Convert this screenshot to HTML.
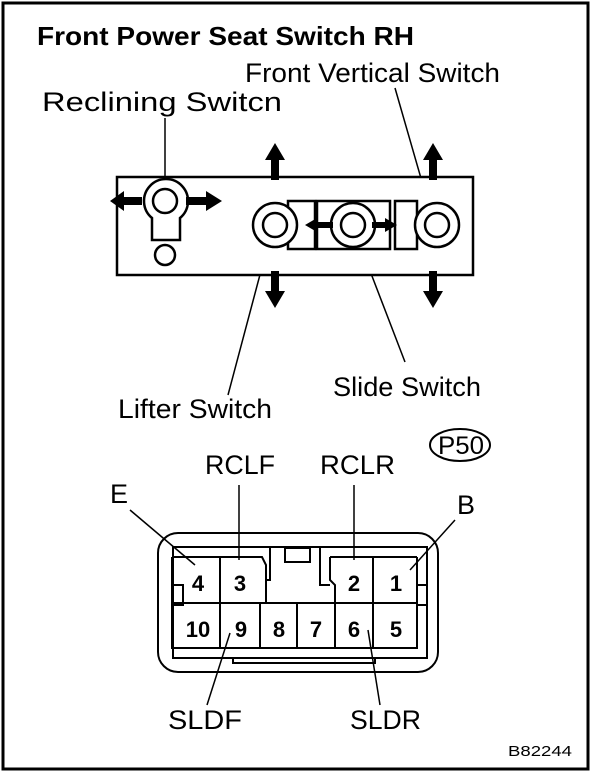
<!DOCTYPE html>
<html><head><style>body{margin:0;background:#fff}svg{display:block}text{font-family:"Liberation Sans",Arial,sans-serif;fill:#000}</style></head><body>
<svg width="608" height="778" viewBox="0 0 608 778" xmlns="http://www.w3.org/2000/svg">
<rect x="3" y="3" width="585" height="766" fill="none" stroke="#000" stroke-width="3"/>
<text x="37" y="45" font-size="26" font-weight="bold" textLength="377" lengthAdjust="spacingAndGlyphs">Front Power Seat Switch RH</text>
<text x="245" y="82" font-size="27" textLength="255" lengthAdjust="spacingAndGlyphs">Front Vertical Switch</text>
<text x="42" y="111" font-size="27" textLength="240" lengthAdjust="spacingAndGlyphs">Reclining Switcn</text>
<text x="333" y="396" font-size="27" textLength="148" lengthAdjust="spacingAndGlyphs">Slide Switch</text>
<text x="118" y="418" font-size="27" textLength="154" lengthAdjust="spacingAndGlyphs">Lifter Switch</text>
<g stroke="#000" stroke-width="1.5" fill="none">
<line x1="165" y1="118" x2="165" y2="201"/>
<line x1="395" y1="88" x2="433" y2="220"/>
<line x1="228" y1="395" x2="270" y2="237"/>
<line x1="405" y1="362" x2="357" y2="237"/>
</g>
<g stroke="#000" stroke-width="2.5" fill="#fff">
<rect x="117" y="177" width="356" height="98"/>
<path d="M152,240 L152,218 A22,22 0 1 1 180,218 L180,240 Z"/>
<circle cx="165" cy="201" r="12"/>
<circle cx="165" cy="255" r="10"/>
<rect x="288" y="201" width="27" height="48"/>
<rect x="317" y="201" width="73" height="48"/>
<rect x="395" y="201" width="22" height="48"/>
<circle cx="275" cy="225" r="22"/>
<circle cx="353" cy="225" r="22"/>
<circle cx="437" cy="225" r="22"/>
<circle cx="275" cy="225" r="12"/>
<circle cx="353" cy="225" r="12"/>
<circle cx="437" cy="225" r="12"/>
</g>
<g fill="#000">
<path d="M110,201 L124,191 L124,197 L142,197 L142,205 L124,205 L124,211 Z"/>
<path d="M222,201 L206,191 L206,197 L186,197 L186,205 L206,205 L206,211 Z"/>
<path d="M305,225 L317,218 L317,222 L333,222 L333,228 L317,228 L317,232 Z"/>
<path d="M397,225 L385,218 L385,222 L372,222 L372,228 L385,228 L385,232 Z"/>
<path d="M275,143 L265,160 L271,160 L271,180 L279,180 L279,160 L285,160 Z"/>
<path d="M433,143 L423,160 L429,160 L429,180 L437,180 L437,160 L443,160 Z"/>
<path d="M275,308 L265,291 L271,291 L271,271 L279,271 L279,291 L285,291 Z"/>
<path d="M433,308 L423,291 L429,291 L429,271 L437,271 L437,291 L443,291 Z"/>
</g>
<ellipse cx="460" cy="445" rx="30" ry="16" fill="none" stroke="#000" stroke-width="2"/>
<text x="461" y="454" font-size="25" text-anchor="middle" textLength="46" lengthAdjust="spacingAndGlyphs">P50</text>
<text x="205" y="474" font-size="27" textLength="70" lengthAdjust="spacingAndGlyphs">RCLF</text>
<text x="320" y="474" font-size="27" textLength="75" lengthAdjust="spacingAndGlyphs">RCLR</text>
<text x="110" y="503" font-size="27">E</text>
<text x="457" y="514" font-size="27">B</text>
<text x="168" y="729" font-size="27" textLength="74" lengthAdjust="spacingAndGlyphs">SLDF</text>
<text x="350" y="729" font-size="27" textLength="71" lengthAdjust="spacingAndGlyphs">SLDR</text>
<text x="508" y="756" font-size="15" textLength="64" lengthAdjust="spacingAndGlyphs">B82244</text>
<g stroke="#000" stroke-width="2" fill="none">
<rect x="158" y="533" width="280" height="139" rx="20"/>
<path d="M173,547 L427,547 L427,658 L173,658 Z"/>
<path d="M172,557 L262,557 L266,565 L266,603"/>
<path d="M330,557 L417,557"/>
<path d="M330,557 L330,580 L335,585 L335,603"/>
<path d="M266,580 L270,580 L270,548"/>
<rect x="285" y="548" width="25" height="14"/>
<path d="M320,548 L320,585 L330,585"/>
<line x1="172" y1="603" x2="417" y2="603"/>
<line x1="220" y1="557" x2="220" y2="648"/>
<line x1="373" y1="557" x2="373" y2="648"/>
<line x1="260" y1="603" x2="260" y2="648"/>
<line x1="297" y1="603" x2="297" y2="648"/>
<line x1="335" y1="603" x2="335" y2="648"/>
<path d="M172,557 L172,648 L417,648 L417,557"/>
<rect x="173" y="585" width="10" height="20"/>
<rect x="417" y="585" width="10" height="20"/>
<path d="M233,658 L233,663 L375,663 L375,658"/>
</g>
<g font-size="22" font-weight="bold" text-anchor="middle">
<text x="198" y="591">4</text><text x="240" y="591">3</text>
<text x="354" y="591">2</text><text x="396" y="591">1</text>
<text x="198" y="637">10</text><text x="241" y="637">9</text>
<text x="279" y="637">8</text><text x="316" y="637">7</text>
<text x="354" y="637">6</text><text x="396" y="637">5</text>
</g>
<g stroke="#000" stroke-width="1.5">
<line x1="130" y1="510" x2="195" y2="565"/>
<line x1="239" y1="485" x2="239" y2="560"/>
<line x1="354" y1="485" x2="354" y2="560"/>
<line x1="455" y1="520" x2="410" y2="570"/>
<line x1="207" y1="705" x2="230" y2="633"/>
<line x1="380" y1="705" x2="368" y2="630"/>
</g>
</svg>
</body></html>
